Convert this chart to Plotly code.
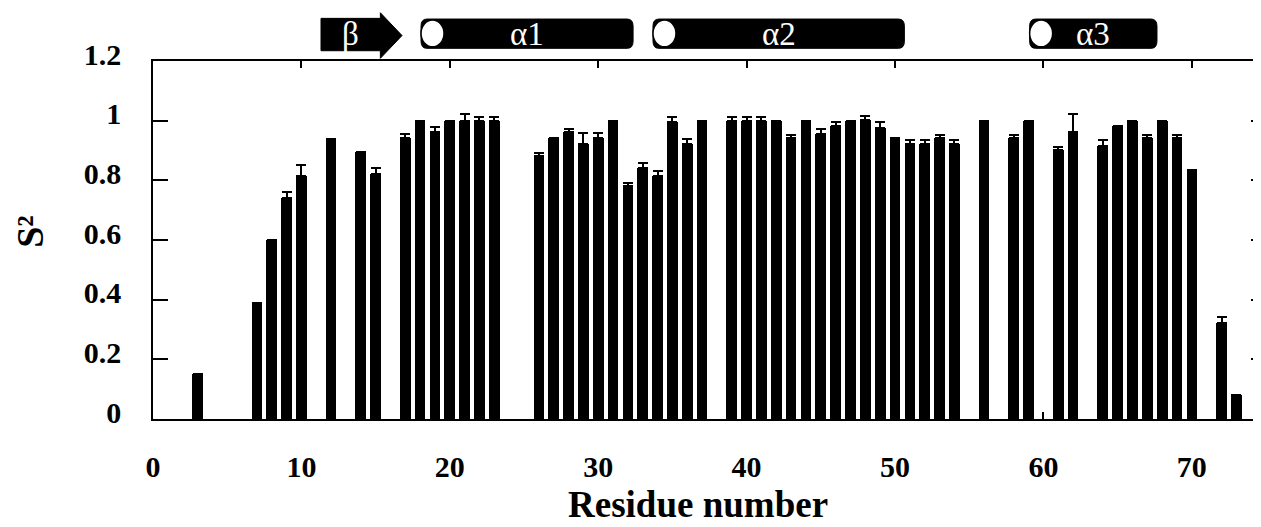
import plotly.graph_objects as go

# ---- data ----
residues = [3, 7, 8, 9, 10, 12, 14, 15, 17, 18, 19, 20, 21, 22, 23,
            26, 27, 28, 29, 30, 31, 32, 33, 34, 35, 36, 37,
            39, 40, 41, 42, 43, 44, 45, 46, 47, 48, 49, 50, 51, 52, 53, 54,
            56, 58, 59, 61, 62, 64, 65, 66, 67, 68, 69, 70, 72, 73]
s2_values = [0.15, 0.39, 0.60, 0.74, 0.815, 0.94, 0.895, 0.82, 0.943, 1.0, 0.962, 1.0, 1.0, 1.0, 1.0,
             0.881, 0.942, 0.962, 0.921, 0.942, 1.0, 0.781, 0.840, 0.814, 0.995, 0.921, 1.0,
             1.0, 1.0, 1.0, 1.0, 0.942, 1.0, 0.955, 0.982, 1.0, 1.003, 0.975, 0.942, 0.921, 0.921, 0.942, 0.921,
             1.0, 0.942, 1.0, 0.901, 0.962, 0.915, 0.982, 1.0, 0.942, 1.0, 0.942, 0.833, 0.322, 0.082]
s2_errors = [0, 0, 0, 0.02, 0.038, 0, 0, 0.02, 0.012, 0, 0.018, 0, 0.021, 0.012, 0.012,
             0.012, 0, 0.011, 0.039, 0.018, 0, 0.011, 0.019, 0.017, 0.018, 0.019, 0,
             0.012, 0.012, 0.012, 0, 0.011, 0, 0.018, 0.013, 0, 0.012, 0.02, 0, 0.013, 0.013, 0.011, 0.013,
             0, 0.011, 0, 0.012, 0.059, 0.019, 0, 0, 0.011, 0, 0.011, 0, 0.02, 0]

x_ticks = [0, 10, 20, 30, 40, 50, 60, 70]
y_ticks = [0, 0.2, 0.4, 0.6, 0.8, 1.0, 1.2]
x_title = "Residue number"
y_title = "S²"

# secondary structure elements: (label, kind, start residue, end residue)
ss_labels = ["β", "α1", "α2", "α3"]
ss_kinds = ["strand", "helix", "helix", "helix"]
ss_starts = [11.32, 18.06, 33.69, 59.07]
ss_ends = [16.78, 32.35, 50.63, 67.65]

FONT = "Times New Roman, Liberation Serif, serif"

fig = go.Figure()
fig.add_trace(go.Bar(
    x=residues, y=s2_values, width=0.72,
    marker=dict(color="black", line=dict(width=0)),
    error_y=dict(type="data", array=s2_errors, arrayminus=[0] * len(s2_errors),
                 color="black", thickness=2, width=5),
    showlegend=False, hoverinfo="x+y"))
# invisible trace to carry the right-hand tick axis
fig.add_trace(go.Scatter(x=[1], y=[0], yaxis="y2", mode="markers",
                         marker=dict(opacity=0), showlegend=False, hoverinfo="skip"))

# ---- secondary structure cartoon ----
shapes = []
annotations = []
yb0, yb1 = 1.0287, 1.1191      # strand body (paper)
yh0, yh1 = 1.0075, 1.1347      # strand head
yc0, yc1 = 1.0354, 1.1172      # helix cylinder
ye0, ye1 = 1.0395, 1.1144      # helix end ellipse
ytext = 1.075
for lab, kind, s, e in zip(ss_labels, ss_kinds, ss_starts, ss_ends):
    if kind == "strand":
        xh = e - 1.46
        ym = (yh0 + yh1) / 2
        path = (f"M {s},{yb0} L {xh},{yb0} L {xh},{yh0} L {e},{ym} "
                f"L {xh},{yh1} L {xh},{yb1} L {s},{yb1} Z")
        shapes.append(dict(type="path", path=path, xref="x", yref="paper",
                           fillcolor="black", line=dict(color="black", width=1)))
        tx = (s + xh) / 2
    else:
        rx, ry = 0.4, 0.02
        path = (f"M {s + rx},{yc0} L {e - rx},{yc0} Q {e},{yc0} {e},{yc0 + ry} "
                f"L {e},{yc1 - ry} Q {e},{yc1} {e - rx},{yc1} L {s + rx},{yc1} "
                f"Q {s},{yc1} {s},{yc1 - ry} L {s},{yc0 + ry} Q {s},{yc0} {s + rx},{yc0} Z")
        shapes.append(dict(type="path", path=path, xref="x", yref="paper",
                           fillcolor="black", line=dict(color="black", width=1)))
        shapes.append(dict(type="circle", xref="x", yref="paper",
                           x0=s, x1=s + 1.55, y0=ye0, y1=ye1,
                           fillcolor="white", line=dict(color="black", width=1.5)))
        tx = (s + e) / 2
    annotations.append(dict(x=tx, y=ytext, xref="x", yref="paper", text=lab,
                            showarrow=False, xanchor="center", yanchor="middle",
                            font=dict(family=FONT, size=33, color="white")))

# axis titles
annotations.append(dict(x=0.492, y=0, xref="paper", yref="paper", text=x_title,
                        showarrow=False, xanchor="center", yanchor="middle", yshift=-85,
                        font=dict(family=FONT, size=37, color="black", weight="bold")))
annotations.append(dict(x=-0.111, y=0.523, xref="paper", yref="paper", text=y_title,
                        showarrow=False, xanchor="center", yanchor="middle", textangle=-90,
                        font=dict(family=FONT, size=38, color="black", weight="bold")))

# the page body adds an 8 px margin, so the figure is sized to fit inside it
fig.update_layout(
    width=1253, height=519,
    margin=dict(l=145, r=0, t=53, b=107.5, autoexpand=False),
    paper_bgcolor="white", plot_bgcolor="white",
    bargap=0,
    shapes=shapes, annotations=annotations,
    font=dict(family=FONT, color="black"),
    xaxis=dict(range=[0, 74.66], tickvals=x_ticks, ticks="inside", ticklen=7,
               tickwidth=1.5, tickcolor="black", showline=True, linecolor="black",
               linewidth=1.5, mirror="ticks", showgrid=False, zeroline=False,
               automargin=False,
               tickfont=dict(family=FONT, size=30, color="black", weight="bold"),
               ticklabelstandoff=20),
    yaxis=dict(range=[0, 1.2], tickvals=y_ticks, ticks="inside", ticklen=15,
               tickwidth=1.5, tickcolor="black", showline=True, linecolor="black",
               linewidth=1.5, mirror=False, showgrid=False, zeroline=False,
               automargin=False,
               tickfont=dict(family=FONT, size=30, color="black", weight="bold"),
               ticklabelstandoff=24, ticklabelshift=-7),
    yaxis2=dict(range=[0, 1.2], tickvals=y_ticks, overlaying="y", side="right",
                ticks="inside", ticklen=10, tickwidth=1.5, tickcolor="black",
                showline=False, showgrid=False, zeroline=False, showticklabels=False,
                automargin=False),
)

fig.write_html("out.html")
